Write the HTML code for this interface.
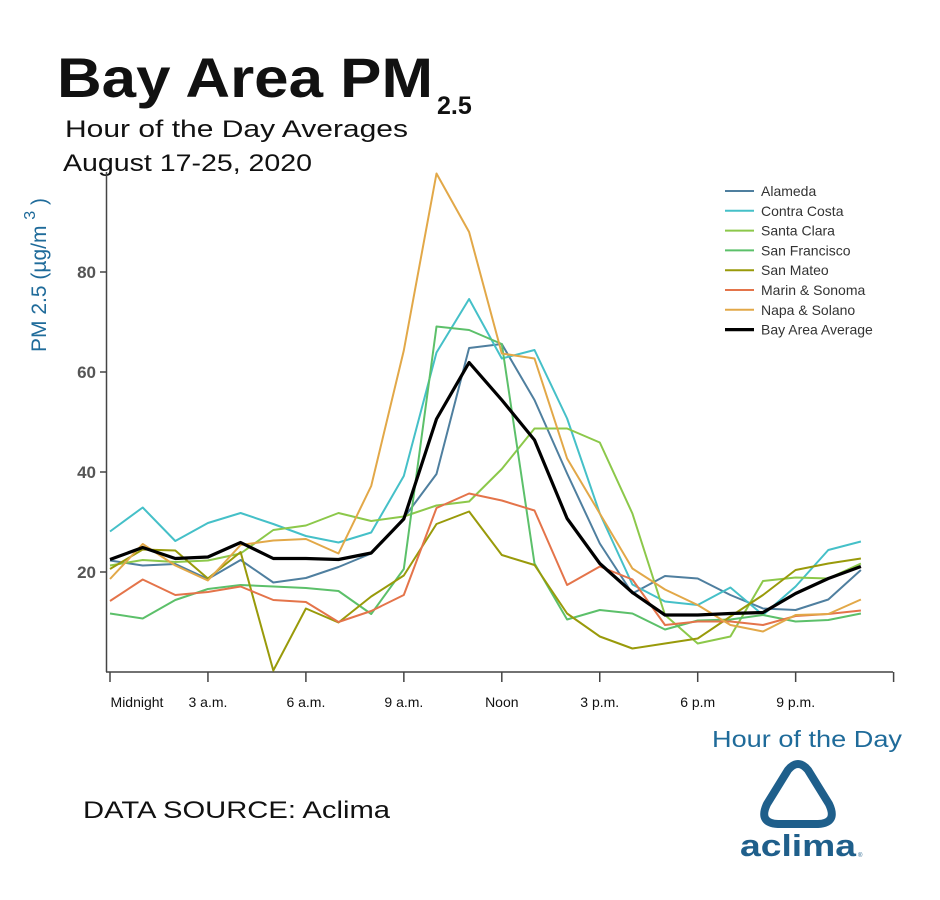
<!DOCTYPE html>
<html><head><meta charset="utf-8"><style>
html,body{margin:0;padding:0;background:#fff;}
svg{display:block;font-family:"Liberation Sans",sans-serif;}
</style></head><body>
<svg width="940" height="900" viewBox="0 0 940 900">
<text x="57" y="97" font-size="56" font-weight="bold" fill="#111" textLength="376" lengthAdjust="spacingAndGlyphs">Bay Area PM</text>
<text x="437" y="114" font-size="25" font-weight="bold" fill="#111">2.5</text>
<text x="65" y="137" font-size="24" fill="#111" textLength="343" lengthAdjust="spacingAndGlyphs">Hour of the Day Averages</text>
<text x="63" y="171" font-size="24" fill="#111" textLength="249" lengthAdjust="spacingAndGlyphs">August 17-25, 2020</text>
<text transform="translate(46,352) rotate(-90)" font-size="21" fill="#1f6b9a">PM 2.5 (µg/m <tspan dy="-11" font-size="16">3</tspan><tspan dy="11"> )</tspan></text>
<g id="axes"></g>
<g id="lines"></g>
<g id="legend"></g>
<text x="83" y="818" font-size="24" fill="#111" textLength="307" lengthAdjust="spacingAndGlyphs">DATA SOURCE: Aclima</text>
<text x="712" y="747" font-size="23" fill="#1f6b9a" textLength="190" lengthAdjust="spacingAndGlyphs">Hour of the Day</text>
<path d="M788,770 Q798,758 808,770 L829,804 Q838,823 818,824 L778,824 Q758,823 767,804 Z" fill="none" stroke="#1f5f8b" stroke-width="8" stroke-linejoin="round"/>
<text x="740" y="856" font-size="31" font-weight="bold" fill="#1f5f8b" textLength="116" lengthAdjust="spacingAndGlyphs">aclima</text>
<text x="858" y="857" font-size="6" fill="#1f5f8b">®</text>
</svg>
<script>
const hours = [0,1,2,3,4,5,6,7,8,9,10,11,12,13,14,15,16,17,18,19,20,21,22,23];
const yTicks = [20,40,60,80];
const xTickLabels = ["Midnight","3 a.m.","6 a.m.","9 a.m.","Noon","3 p.m.","6 p.m","9 p.m.",""];
const seriesNames = ["Alameda","Contra Costa","Santa Clara","San Francisco","San Mateo","Marin & Sonoma","Napa & Solano","Bay Area Average"];
const alameda = [22.3,21.3,21.6,18.6,22.4,17.9,18.8,21.0,23.7,30.8,39.6,64.8,65.6,54.4,39.7,25.7,15.7,19.2,18.7,15.4,12.7,12.4,14.5,20.4];
const contraCosta = [28.1,32.9,26.2,29.8,31.8,29.6,27.2,25.9,27.9,39.2,63.9,74.6,62.7,64.4,50.7,31.7,17.5,14.1,13.4,16.9,11.4,17.1,24.4,26.1];
const santaClara = [21.3,22.4,22.0,22.3,23.7,28.4,29.3,31.8,30.2,31.1,33.3,34.1,40.6,48.7,48.7,45.9,31.7,11.4,5.7,7.1,18.2,18.9,18.7,21.7];
const sanFrancisco = [11.7,10.7,14.4,16.6,17.4,17.1,16.8,16.2,11.6,20.6,69.1,68.4,65.6,21.7,10.5,12.4,11.7,8.5,10.3,10.5,11.4,10.1,10.4,11.7];
const sanMateo = [20.6,24.5,24.3,18.7,24.0,0.3,12.7,9.9,15.1,19.3,29.6,32.1,23.4,21.4,11.7,7.1,4.7,5.7,6.7,11.1,15.4,20.4,21.7,22.7];
const marinSonoma = [14.2,18.5,15.4,16.0,17.1,14.4,14.0,10.0,12.2,15.4,32.8,35.7,34.3,32.3,17.4,21.1,18.5,9.4,10.1,10.1,9.4,11.2,11.6,12.3];
const napaSolano = [18.6,25.6,21.3,18.3,25.4,26.3,26.6,23.7,37.2,64.3,99.7,88.0,63.7,62.7,42.7,31.7,20.7,16.5,13.4,9.4,8.1,11.4,11.6,14.5];
const bayAverage = [22.5,24.9,22.7,23.0,25.9,22.7,22.7,22.5,23.8,30.6,50.6,61.9,54.4,46.4,30.7,21.7,15.9,11.4,11.4,11.7,11.9,15.7,18.7,21.1];

const NS = "http://www.w3.org/2000/svg";
const X0 = 110, XSTEP = 32.65, Y0 = 672, YPX = 5;
function xScale(h){ return X0 + h*XSTEP; }
function yScale(v){ return Y0 - v*YPX; }
function mk(tag, attrs, parent){ const e=document.createElementNS(NS,tag); for(const k in attrs) e.setAttribute(k,attrs[k]); parent.appendChild(e); return e; }

const axes = document.getElementById('axes');
const yAxis = mk('line',{x1:106.5,y1:172,x2:106.5,y2:Y0,stroke:'#444','stroke-width':1.5},axes);


const xAxis = mk('line',{x1:106,y1:Y0,x2:893,y2:Y0,stroke:'#444','stroke-width':1.5},axes);


yTicks.forEach(v=>{
  const y=yScale(v);
  const t=mk('line',{x1:100,y1:y,x2:106,y2:y,stroke:'#444','stroke-width':1.5},axes);
  
  
  const l=mk('text',{x:96,y:y+6,'text-anchor':'end','font-size':17,'font-weight':'bold',fill:'#555'},axes);
  l.textContent=v;
  
  
});
xTickLabels.forEach((lab,i)=>{
  const x=xScale(i*3);
  const t=mk('line',{x1:x,y1:Y0,x2:x,y2:Y0+10,stroke:'#444','stroke-width':1.5},axes);
  
  
  if(lab){
    const l=mk('text',{x:x+(i===0?27:0),y:707,'text-anchor':'middle','font-size':14,fill:'#111'},axes);
    l.textContent=lab;
    
    
  }
});

const allSeries=[alameda,contraCosta,santaClara,sanFrancisco,sanMateo,marinSonoma,napaSolano,bayAverage];
const colors=['#4f7f9f','#45c0c8','#8cc84a','#5cc06a','#999a0a','#e4744a','#e2a848','#000'];
const widths=[2,2,2,2,2,2,2,3.2];
const slugs=['alameda','contra-costa','santa-clara','san-francisco','san-mateo','marin-sonoma','napa-solano','bay-area-average'];
const lines=document.getElementById('lines');
allSeries.forEach((s,i)=>{
  const d=s.map((v,j)=>(j?'L':'M')+xScale(hours[j]).toFixed(1)+','+yScale(v).toFixed(1)).join(' ');
  const p=mk('path',{d:d,fill:'none',stroke:colors[i],'stroke-width':widths[i],'stroke-linejoin':'round'},lines);
  
  
});
const legend=document.getElementById('legend');
seriesNames.forEach((n,i)=>{
  const y=191+i*19.8;
  const g=mk('g',{},legend);
  
  
  mk('line',{x1:725,y1:y,x2:754,y2:y,stroke:colors[i],'stroke-width':i===7?3.2:2},g);
  const t=mk('text',{x:761,y:y+5,'font-size':14,fill:'#333'},g);
  t.textContent=n;
});
</script>
</body></html>
